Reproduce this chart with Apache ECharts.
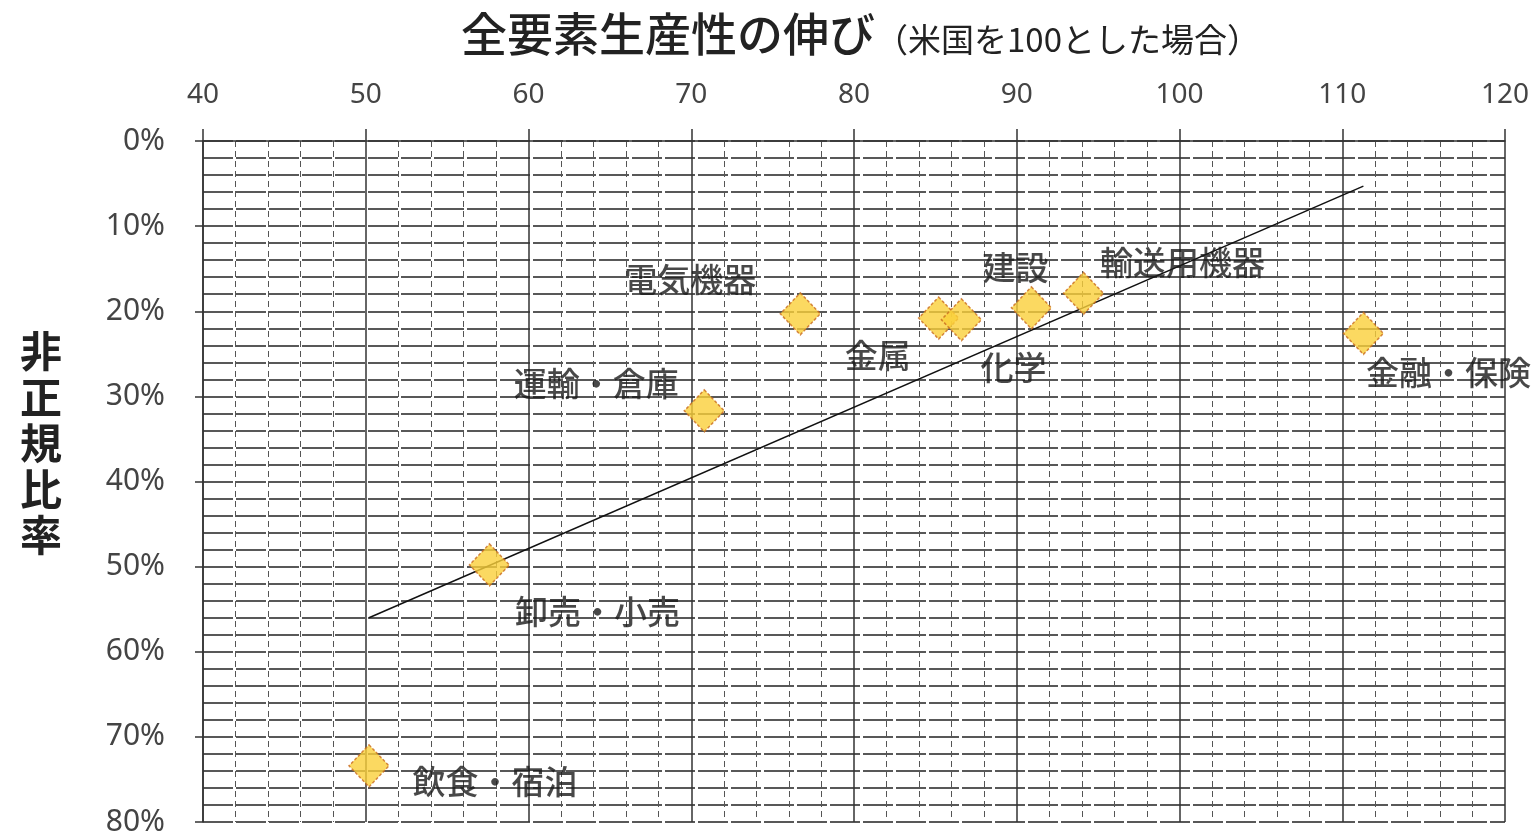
<!DOCTYPE html>
<html>
<head>
<meta charset="utf-8">
<script src="https://cdn.jsdelivr.net/npm/echarts@6/dist/echarts.min.js"></script>
<style>html,body{margin:0;padding:0;background:#fff;}#c{width:1539px;height:837px;}</style>
</head>
<body>
<div id="c"></div>
<script>
// ---- data ----
const industries = ['飲食・宿泊','卸売・小売','運輸・倉庫','電気機器','金属','化学','建設','輸送用機器','金融・保険'];
const tfpGrowth  = [50.2, 57.6, 70.8, 76.7, 85.2, 86.6, 90.9, 94.1, 111.3];   // x: 全要素生産性の伸び (米国=100)
const nonRegular = [73.4, 49.8, 31.7, 20.3, 20.8, 21.0, 19.6, 17.9, 22.6];    // y: 非正規比率 (%)
const trendX = [50.2, 111.3];
const trendY = [56.0, 5.3];
const xTicks = [40, 50, 60, 70, 80, 90, 100, 110, 120];
const yTicks = [0, 10, 20, 30, 40, 50, 60, 70, 80];

// ---- layout (label offsets from marker centre, px) ----
const labelOffsets = {
  '飲食・宿泊': [126, 16],
  '卸売・小売': [108, 47],
  '運輸・倉庫': [-108, -27],
  '電気機器': [-110, -34],
  '金属': [-61, 37],
  '化学': [52, 48],
  '建設': [-16, -40],
  '輸送用機器': [99, -31],
  '金融・保険': [85, 39]
};

const pts = industries.map((n, i) => ({
  name: n,
  value: [tfpGrowth[i], nonRegular[i]],
  label: { offset: labelOffsets[n] }
}));
const trend = trendX.map((x, i) => [x, trendY[i]]);

const chart = echarts.init(document.getElementById('c'));
const jp = '"Noto Sans CJK JP", "Noto Sans", sans-serif';
const hLine = { color: '#222', width: 1.5, type: [30, 3] };
chart.setOption({
  backgroundColor: '#fff',
  animation: false,
  title: {
    text: '{a|全要素生産性の伸び}{b|（米国を100とした場合）}',
    left: 456, top: 6,
    textStyle: {
      rich: {
        a: { fontFamily: jp, fontSize: 46, fontWeight: 500, color: '#222' },
        b: { fontFamily: jp, fontSize: 33, fontWeight: 400, color: '#222', padding: [10, 0, 0, 0] }
      }
    }
  },
  graphic: [{
    type: 'text',
    left: 20, top: 328,
    style: {
      text: '非\n正\n規\n比\n率',
      fontFamily: jp, fontSize: 42, fontWeight: 'bold', fill: '#222', lineHeight: 46
    }
  }],
  grid: { left: 203, right: 34, top: 141, bottom: 15, containLabel: false },
  xAxis: {
    type: 'value', position: 'top',
    min: 40, max: 120, interval: 10,
    axisLine: { show: true, lineStyle: { color: '#333', width: 1.5 } },
    axisTick: { show: true, inside: false, length: 12, lineStyle: { color: '#333', width: 1.5 } },
    axisLabel: {
      margin: 32, fontSize: 28, color: '#444', fontFamily: '"Noto Sans", sans-serif',
      formatter: v => xTicks.includes(v) ? String(v) : ''
    },
    splitLine: { show: true, lineStyle: { color: '#333', width: 1.5 } },
    minorTick: { show: false, splitNumber: 5 },
    minorSplitLine: { show: true, lineStyle: { color: '#555', width: 1, type: [6, 4] } }
  },
  yAxis: [
    {
      // grid lines every 2%
      type: 'value', inverse: true,
      min: 0, max: 80, interval: 2,
      axisLine: { show: false },
      axisTick: { show: false },
      axisLabel: { show: false },
      splitLine: { show: true, lineStyle: hLine }
    },
    {
      // labels and ticks every 10%
      type: 'value', inverse: true, position: 'left',
      min: 0, max: 80, interval: 10,
      axisLine: { show: true, onZero: false, lineStyle: { color: '#333', width: 1.5 } },
      axisTick: { show: true, length: 8, lineStyle: { color: '#333', width: 1.5 } },
      axisLabel: {
        margin: 38, fontSize: 30, color: '#444', fontFamily: '"Noto Sans", sans-serif',
        formatter: v => yTicks.includes(v) ? v + '%' : ''
      },
      splitLine: { show: false }
    }
  ],
  series: [
    {
      type: 'line',
      data: trend,
      yAxisIndex: 0,
      showSymbol: false,
      symbol: 'none',
      lineStyle: { color: '#111', width: 1.5 },
      z: 3,
      silent: true
    },
    {
      type: 'scatter',
      data: pts,
      yAxisIndex: 0,
      symbol: 'diamond',
      symbolSize: [40, 42],
      itemStyle: { color: '#FAD03A', borderColor: '#C86A1E', borderWidth: 1.5, borderType: [3, 2] },
      z: 4,
      label: {
        show: true,
        position: 'inside',
        align: 'center',
        verticalAlign: 'middle',
        formatter: p => p.name,
        fontFamily: jp,
        fontSize: 33,
        fontWeight: 500,
        color: '#1a1a1a'
      }
    }
  ]
});
</script>
</body>
</html>
